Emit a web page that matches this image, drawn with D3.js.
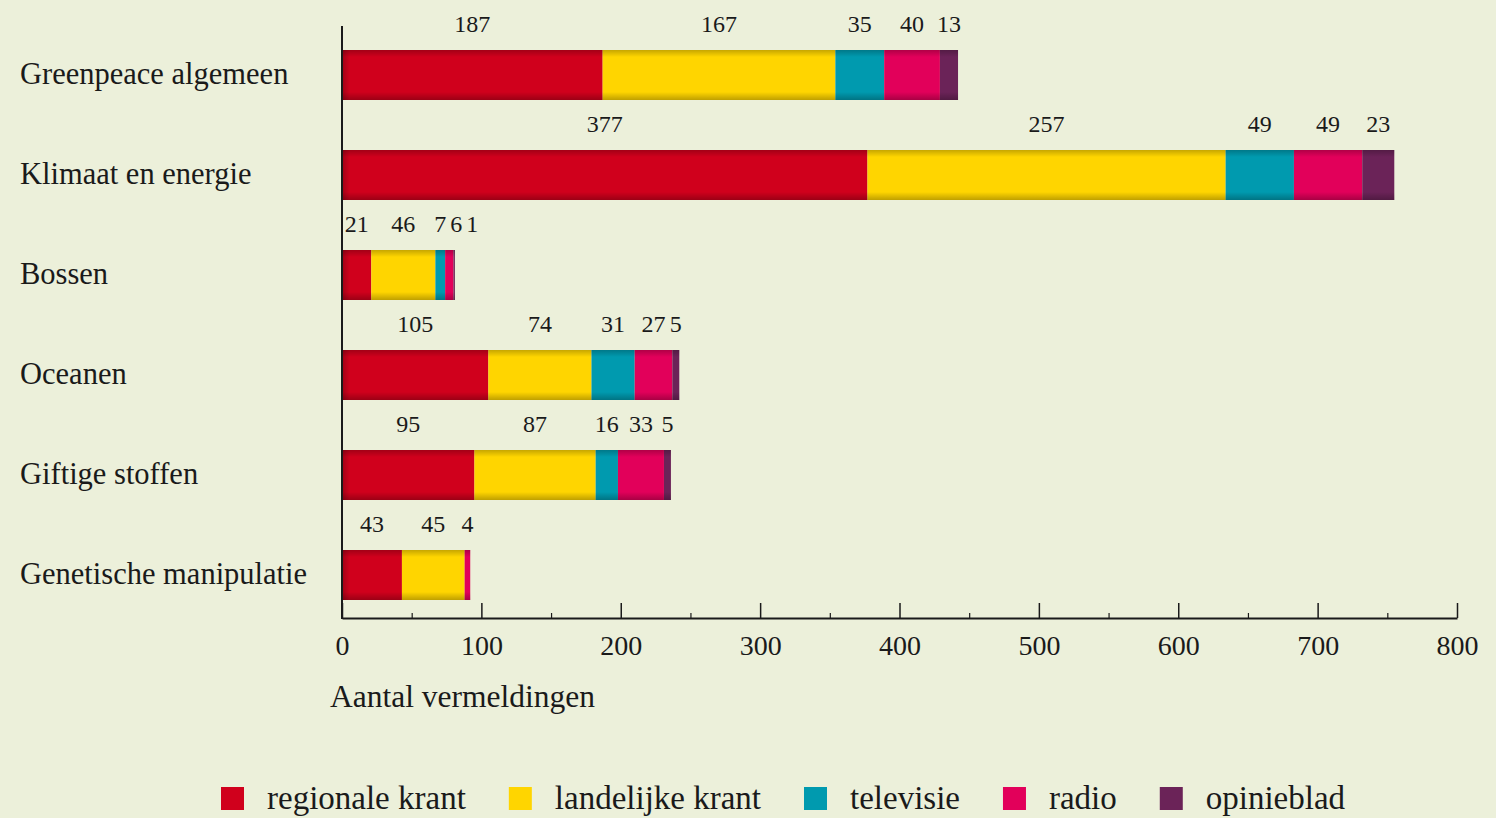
<!DOCTYPE html>
<html><head><meta charset="utf-8">
<script src="https://cdn.jsdelivr.net/npm/d3@7"></script>
<style>
html,body{margin:0;padding:0;background:#ECF0DA;}
svg{display:block;}
text{font-family:"Liberation Serif","DejaVu Serif",serif;fill:#1a1a1a;}
</style></head>
<body>
<svg id="chart" width="1496" height="818"></svg>
<script>
const categories = ["Greenpeace algemeen","Klimaat en energie","Bossen","Oceanen","Giftige stoffen","Genetische manipulatie"];
const seriesNames = ["regionale krant","landelijke krant","televisie","radio","opinieblad"];
const regionaleKrant = [187,377,21,105,95,43];
const landelijkeKrant = [167,257,46,74,87,45];
const televisie = [35,49,7,31,16,0];
const radio = [40,49,6,27,33,4];
const opinieblad = [13,23,1,5,5,0];
const majorTicks = [0,100,200,300,400,500,600,700,800];
const minorTicks = [50,150,250,350,450,550,650,750];
const colors = ["#D0001C","#FFD500","#009AAF","#E2005A","#6B2358"];
const axisTitle = "Aantal vermeldingen";

const seriesValues = [regionaleKrant, landelijkeKrant, televisie, radio, opinieblad];
const rows = categories.map((c,i)=>{
  const o = {cat:c};
  seriesNames.forEach((s,j)=>o[s]=seriesValues[j][i]);
  return o;
});
const stacked = d3.stack().keys(seriesNames)(rows);

const svg = d3.select("#chart");
svg.append("rect").attr("width",1496).attr("height",818).attr("fill","#ECF0DA");

const x = d3.scaleLinear().domain([0,800]).range([342,1457]);
const y = d3.scaleBand().domain(categories).range([25,625]).paddingInner(0.5).paddingOuter(0.25);
const color = d3.scaleOrdinal().domain(seriesNames).range(colors);

const defs = svg.append("defs");
const vg = defs.append("linearGradient").attr("id","vshade").attr("x1",0).attr("y1",0).attr("x2",0).attr("y2",1);
vg.append("stop").attr("offset","0%").attr("stop-color","#000").attr("stop-opacity",0.22);
vg.append("stop").attr("offset","14%").attr("stop-color","#000").attr("stop-opacity",0);
vg.append("stop").attr("offset","84%").attr("stop-color","#000").attr("stop-opacity",0);
vg.append("stop").attr("offset","100%").attr("stop-color","#000").attr("stop-opacity",0.25);
const hg = defs.append("linearGradient").attr("id","hshade").attr("x1",0).attr("y1",0).attr("x2",1).attr("y2",0);
hg.append("stop").attr("offset","0%").attr("stop-color","#000").attr("stop-opacity",0.22);
hg.append("stop").attr("offset","100%").attr("stop-color","#000").attr("stop-opacity",0);

// bars
const layers = svg.append("g").selectAll("g").data(stacked).join("g").attr("fill",d=>color(d.key));
layers.selectAll("rect").data(d=>d).join("rect")
  .attr("x",d=>x(d[0])).attr("width",d=>x(d[1])-x(d[0]))
  .attr("y",d=>y(d.data.cat)).attr("height",y.bandwidth());

// shading overlays
categories.forEach((c,i)=>{
  const total = d3.sum(seriesValues, s=>s[i]);
  svg.append("rect").attr("x",x(0)).attr("width",x(total)-x(0)).attr("y",y(c)).attr("height",y.bandwidth()).attr("fill","url(#vshade)");
  svg.append("rect").attr("x",x(0)).attr("width",8).attr("y",y(c)).attr("height",y.bandwidth()).attr("fill","url(#hshade)");
});

// value labels with simple collision avoidance
const lblG = svg.append("g");
categories.forEach((c,i)=>{
  let prevRight = -Infinity;
  stacked.forEach(layer=>{
    const d = layer[i];
    const v = d[1]-d[0];
    if(v<=0) return;
    const t = lblG.append("text").attr("font-size",24).attr("text-anchor","middle")
      .attr("y", y(c)-18).text(v);
    const w = t.node().getComputedTextLength();
    let cx = (x(d[0])+x(d[1]))/2;
    if(cx - w/2 < prevRight + 4) cx = prevRight + 4 + w/2;
    t.attr("x",cx);
    prevRight = cx + w/2;
  });
});

// category labels
svg.append("g").selectAll("text").data(categories).join("text")
  .attr("x",20).attr("y",d=>y(d)+y.bandwidth()/2).attr("dy","0.28em")
  .attr("font-size",30.5).text(d=>d);

// vertical axis line
svg.append("line").attr("x1",x(0)).attr("x2",x(0)).attr("y1",26).attr("y2",619)
  .attr("stroke","#1a1a1a").attr("stroke-width",2);

// x axis
const axisY = 618;
const gx = svg.append("g").attr("transform",`translate(0,${axisY})`)
  .call(d3.axisBottom(x).tickValues(majorTicks).tickSizeInner(-15).tickSizeOuter(0).tickPadding(17).tickFormat(d3.format("d")));
gx.select(".domain").attr("stroke","#1a1a1a").attr("stroke-width",2);
gx.selectAll(".tick line").attr("stroke","#1a1a1a").attr("stroke-width",1.5);
gx.selectAll(".tick text").attr("font-size",28).attr("font-family","Liberation Serif").attr("fill","#1a1a1a");
const gm = svg.append("g").attr("transform",`translate(0,${axisY})`)
  .call(d3.axisBottom(x).tickValues(minorTicks).tickSizeInner(-5).tickSizeOuter(0).tickFormat(""));
gm.select(".domain").remove();
gm.selectAll(".tick line").attr("stroke","#1a1a1a").attr("stroke-width",1.2);

svg.append("text").attr("x",330).attr("y",707).attr("font-size",31.5).text(axisTitle);

// legend
const leg = svg.append("g");
let lx = 221;
seriesNames.forEach(s=>{
  leg.append("rect").attr("x",lx).attr("y",787).attr("width",23).attr("height",23).attr("fill",color(s));
  const t = leg.append("text").attr("x",lx+46).attr("y",809).attr("font-size",33).text(s);
  lx += 46 + t.node().getComputedTextLength() + 43;
});
</script>
</body></html>
